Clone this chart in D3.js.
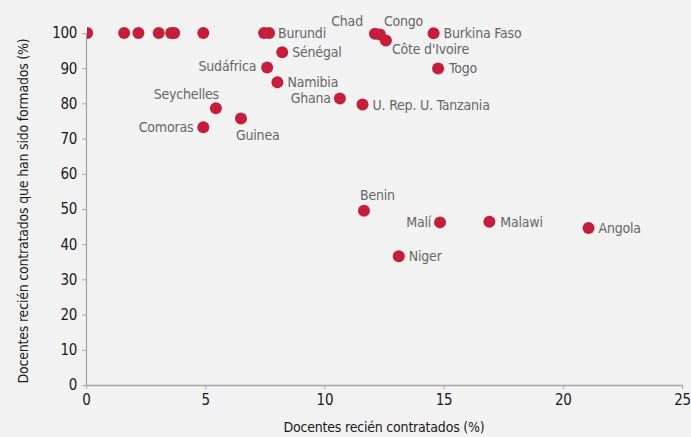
<!DOCTYPE html>
<html>
<head>
<meta charset="utf-8">
<script src="https://cdn.jsdelivr.net/npm/d3@7"></script>
<style>
  html, body { margin: 0; padding: 0; background: #f2f2f2; }
  svg { display: block; font-family: "Liberation Sans Narrow", "DejaVu Sans Condensed", "Roboto", sans-serif; }
</style>
</head>
<body>
<svg id="chart" width="691" height="437"></svg>
<script>
// ---- data ----
const countries = ["", "", "", "", "", "", "", "Burundi", "Sénégal", "Sudáfrica", "Namibia", "Ghana",
  "Seychelles", "Guinea", "Comoras", "Chad", "Congo", "Côte d'Ivoire", "Burkina Faso", "Togo",
  "U. Rep. U. Tanzania", "Benin", "Malí", "Malawi", "Angola", "Niger"];
const newlyHired = [0.05, 1.6, 2.2, 3.05, 3.57, 3.7, 4.92, 7.68, 8.23, 7.6, 8.03, 10.65,
  5.45, 6.5, 4.92, 12.12, 12.33, 12.58, 14.58, 14.77,
  11.6, 11.66, 14.85, 16.92, 21.08, 13.12];
const trained = [100, 100, 100, 100, 100, 100, 100, 100, 94.5, 90.2, 86.0, 81.4,
  78.6, 75.7, 73.2, 99.8, 99.6, 97.9, 99.9, 89.9,
  79.7, 49.5, 46.2, 46.4, 44.6, 36.6];
// extra unlabeled point near Burundi
const extraX = [7.47];
const extraY = [100];
const xTicks = [0, 5, 10, 15, 20, 25];
const yTicks = [0, 10, 20, 30, 40, 50, 60, 70, 80, 90, 100];
const xTitle = "Docentes recién contratados (%)";
const yTitle = "Docentes recién contratados que han sido formados (%)";

// label placement (dx, dy, anchor)
const labelPos = {
  "Burundi": [9, 0, "start"], "Sénégal": [10, 0, "start"], "Sudáfrica": [-11, -1, "end"],
  "Namibia": [10, 0, "start"], "Ghana": [-9, 0, "end"], "Seychelles": [3, -14, "end"],
  "Guinea": [-5, 17, "start"], "Comoras": [-10, 0, "end"], "Chad": [-12, -13, "end"],
  "Congo": [4, -13, "start"], "Côte d'Ivoire": [6, 9, "start"], "Burkina Faso": [10, 0, "start"],
  "Togo": [11, 0, "start"], "U. Rep. U. Tanzania": [10, 1, "start"], "Benin": [-4, -16, "start"],
  "Malí": [-9, 0, "end"], "Malawi": [11, 0, "start"], "Angola": [10, 0, "start"], "Niger": [10, 0, "start"]
};

const svg = d3.select("#chart");
const m = { left: 86, right: 9, top: 33, bottom: 52 };
const W = 691, H = 437;
const x = d3.scaleLinear().domain([0, 25]).range([m.left, W - m.right]);
const y = d3.scaleLinear().domain([0, 100]).range([H - m.bottom, m.top]);

svg.append("rect").attr("width", W).attr("height", H).attr("fill", "#f2f2f2");

const axisColor = "#a6a6a6";
const gx = svg.append("g").attr("transform", `translate(0,${y(0)})`)
  .call(d3.axisBottom(x).tickValues(xTicks).tickSize(4).tickPadding(5).tickSizeOuter(0));
const gy = svg.append("g").attr("transform", `translate(${x(0)},0)`)
  .call(d3.axisLeft(y).tickValues(yTicks).tickSize(4).tickPadding(5).tickSizeOuter(0));
[gx, gy].forEach(g => {
  g.select(".domain").attr("stroke", axisColor).attr("stroke-width", 1.3);
  g.selectAll(".tick line").attr("stroke", axisColor);
  g.selectAll(".tick text").attr("fill", "#1a1a1a").style("font-size", "15px")
    .style("letter-spacing", "-0.3px")
    .style("font-family", "Liberation Sans Narrow, DejaVu Sans Condensed, sans-serif");
});

svg.append("text").attr("x", (x(0) + x(25)) / 2).attr("y", 432)
  .attr("text-anchor", "middle").attr("fill", "#1a1a1a").style("font-size", "14px")
  .style("letter-spacing", "-0.2px").text(xTitle);
svg.append("text").attr("transform", `translate(28,${(y(0) + y(100)) / 2 + 2}) rotate(-90)`)
  .attr("text-anchor", "middle").attr("fill", "#1a1a1a").style("font-size", "14px")
  .style("letter-spacing", "-0.2px").text(yTitle);

svg.append("clipPath").attr("id", "clip").append("rect")
  .attr("x", x(0) + 1).attr("y", 0).attr("width", W).attr("height", H);

const pts = countries.map((c, i) => ({ c, x: newlyHired[i], y: trained[i] }))
  .concat(extraX.map((v, i) => ({ c: "", x: v, y: extraY[i] })));

svg.append("g").attr("clip-path", "url(#clip)").selectAll("circle").data(pts).join("circle")
  .attr("cx", d => x(d.x)).attr("cy", d => y(d.y)).attr("r", 6).attr("fill", "#c41e3a");

svg.append("g").selectAll("text").data(pts.filter(d => d.c)).join("text")
  .attr("x", d => x(d.x) + labelPos[d.c][0])
  .attr("y", d => y(d.y) + labelPos[d.c][1])
  .attr("dy", "0.35em")
  .attr("text-anchor", d => labelPos[d.c][2])
  .attr("fill", "#666666").style("font-size", "14px").style("letter-spacing", "-0.2px")
  .text(d => d.c);
</script>
</body>
</html>
